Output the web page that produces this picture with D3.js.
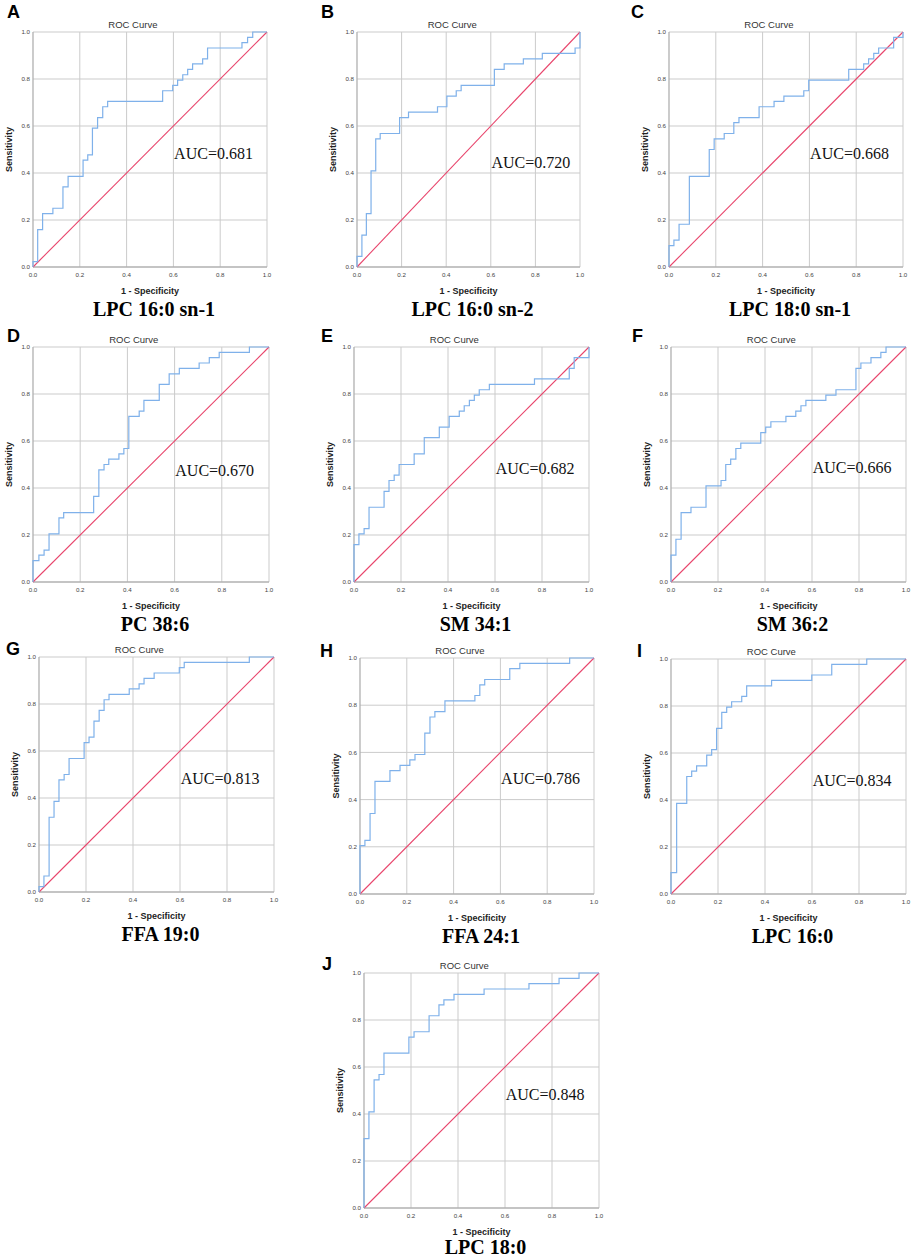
<!DOCTYPE html>
<html>
<head>
<meta charset="utf-8">
<script src="https://cdn.jsdelivr.net/npm/d3@7"></script>
<style>
  html, body { margin: 0; padding: 0; background: #fff; }
  svg { display: block; }
</style>
</head>
<body>
<svg id="chart" width="913" height="1259"></svg>
<script>
// panel data
const panelLetters = ["A", "B", "C", "D", "E", "F", "G", "H", "I", "J"];
const markerNames = ["LPC 16:0 sn-1", "LPC 16:0 sn-2", "LPC 18:0 sn-1", "PC 38:6", "SM 34:1",
  "SM 36:2", "FFA 19:0", "FFA 24:1", "LPC 16:0", "LPC 18:0"];
const aucValues = [0.681, 0.720, 0.668, 0.670, 0.682, 0.666, 0.813, 0.786, 0.834, 0.848];
const axisTicks = [0, 0.2, 0.4, 0.6, 0.8, 1.0];

// ROC steps: [1 - specificity, sensitivity reached at that x]
const rocA = [[0,0.023],[0.020,0.159],[0.041,0.227],[0.085,0.25],[0.128,0.341],[0.150,0.386],[0.214,0.455],[0.234,0.477],[0.254,0.591],[0.276,0.636],[0.298,0.682],[0.319,0.705],[0.554,0.75],[0.597,0.773],[0.618,0.795],[0.640,0.818],[0.661,0.841],[0.682,0.864],[0.725,0.886],[0.746,0.932],[0.893,0.955],[0.917,0.977],[0.939,1.0],[1,1]];
const rocB = [[0,0.045],[0.022,0.136],[0.042,0.227],[0.063,0.409],[0.084,0.545],[0.104,0.568],[0.191,0.636],[0.231,0.659],[0.361,0.682],[0.403,0.727],[0.445,0.75],[0.467,0.773],[0.616,0.841],[0.660,0.864],[0.746,0.886],[0.831,0.909],[0.978,0.932],[1.0,1.0]];
const rocC = [[0,0.091],[0.021,0.114],[0.043,0.182],[0.087,0.386],[0.172,0.5],[0.193,0.545],[0.236,0.568],[0.277,0.614],[0.299,0.636],[0.385,0.682],[0.449,0.705],[0.491,0.727],[0.576,0.75],[0.597,0.795],[0.768,0.841],[0.832,0.864],[0.853,0.886],[0.875,0.909],[0.896,0.932],[0.960,0.977],[1.0,1.0]];
const rocD = [[0,0.091],[0.025,0.114],[0.047,0.136],[0.068,0.205],[0.110,0.273],[0.130,0.295],[0.257,0.364],[0.279,0.477],[0.301,0.5],[0.321,0.523],[0.364,0.545],[0.385,0.568],[0.406,0.705],[0.450,0.727],[0.470,0.773],[0.535,0.841],[0.577,0.886],[0.620,0.909],[0.704,0.932],[0.747,0.955],[0.789,0.977],[0.917,1.0],[1,1]];
const rocE = [[0,0.159],[0.021,0.205],[0.043,0.227],[0.064,0.318],[0.128,0.386],[0.149,0.432],[0.171,0.455],[0.192,0.5],[0.256,0.545],[0.299,0.614],[0.363,0.659],[0.405,0.705],[0.448,0.727],[0.469,0.75],[0.491,0.773],[0.512,0.795],[0.533,0.818],[0.576,0.841],[0.768,0.864],[0.916,0.909],[0.937,0.955],[1.0,1.0]];
const rocF = [[0,0.114],[0.021,0.182],[0.043,0.295],[0.085,0.318],[0.149,0.409],[0.213,0.432],[0.233,0.5],[0.254,0.523],[0.276,0.568],[0.297,0.591],[0.382,0.636],[0.403,0.659],[0.425,0.682],[0.489,0.705],[0.531,0.727],[0.553,0.75],[0.574,0.773],[0.659,0.795],[0.702,0.818],[0.787,0.909],[0.808,0.932],[0.851,0.955],[0.893,0.977],[0.915,1.0],[1,1]];
const rocG = [[0,0.023],[0.021,0.068],[0.043,0.318],[0.064,0.386],[0.085,0.477],[0.107,0.5],[0.128,0.568],[0.192,0.636],[0.213,0.659],[0.234,0.727],[0.256,0.773],[0.277,0.818],[0.298,0.841],[0.384,0.864],[0.426,0.886],[0.447,0.909],[0.490,0.932],[0.597,0.955],[0.618,0.977],[0.895,1.0],[1,1]];
const rocH = [[0,0.205],[0.021,0.227],[0.043,0.341],[0.064,0.477],[0.128,0.523],[0.171,0.545],[0.213,0.568],[0.235,0.591],[0.277,0.682],[0.299,0.75],[0.320,0.773],[0.363,0.818],[0.491,0.841],[0.512,0.886],[0.533,0.909],[0.640,0.955],[0.683,0.977],[0.896,1.0],[1,1]];
const rocI = [[0,0.091],[0.024,0.386],[0.067,0.5],[0.088,0.523],[0.109,0.545],[0.152,0.591],[0.173,0.614],[0.194,0.705],[0.216,0.773],[0.237,0.795],[0.258,0.818],[0.301,0.841],[0.322,0.886],[0.428,0.909],[0.599,0.932],[0.684,0.977],[0.833,1.0],[1,1]];
const rocJ = [[0,0.295],[0.021,0.409],[0.043,0.545],[0.064,0.568],[0.085,0.659],[0.191,0.727],[0.213,0.75],[0.277,0.818],[0.319,0.864],[0.340,0.886],[0.383,0.909],[0.511,0.932],[0.702,0.955],[0.830,0.977],[0.915,1.0],[1,1]];
const rocCurves = [rocA, rocB, rocC, rocD, rocE, rocF, rocG, rocH, rocI, rocJ];

// layout of the plot boxes on the page (pixels)
const layout = [
  { x0: 33, x1: 267, y0: 32, y1: 267, lx: 7, ly: 18, aucY: 0.458 },
  { x0: 357, x1: 580, y0: 32, y1: 267, lx: 321, ly: 18, aucY: 0.422 },
  { x0: 669, x1: 903, y0: 32, y1: 267, lx: 631, ly: 18, aucY: 0.46 },
  { x0: 33, x1: 269, y0: 347, y1: 582, lx: 7, ly: 342, aucY: 0.45 },
  { x0: 354, x1: 589, y0: 347, y1: 582, lx: 321, ly: 342, aucY: 0.46 },
  { x0: 671, x1: 906, y0: 347, y1: 582, lx: 632, ly: 342, aucY: 0.465 },
  { x0: 39, x1: 274, y0: 657, y1: 892, lx: 6, ly: 655, aucY: 0.461 },
  { x0: 360, x1: 594, y0: 658, y1: 894, lx: 320, ly: 657, aucY: 0.465 },
  { x0: 671, x1: 906, y0: 659, y1: 894, lx: 637, ly: 657, aucY: 0.46 },
  { x0: 364, x1: 599, y0: 973, y1: 1208, lx: 322, ly: 970, aucY: 0.458 }
];

const sans = "'Liberation Sans', Arial, Helvetica, sans-serif";
const serif = "'Liberation Serif', 'Times New Roman', Times, serif";
const svg = d3.select("#chart");
const fmt = d3.format(".1f");

layout.forEach((p, i) => {
  const x = d3.scaleLinear().domain([0, 1]).range([p.x0, p.x1]);
  const y = d3.scaleLinear().domain([0, 1]).range([p.y1, p.y0]);
  const g = svg.append("g").attr("class", "panel");

  // grid
  g.append("g").selectAll("line")
    .data(axisTicks.slice(1))
    .join("line")
    .attr("x1", (d) => x(d)).attr("x2", (d) => x(d))
    .attr("y1", y(0)).attr("y2", y(1))
    .attr("stroke", "#cbcbcb").attr("stroke-width", 1);
  g.append("g").selectAll("line")
    .data(axisTicks.slice(1))
    .join("line")
    .attr("x1", x(0)).attr("x2", x(1))
    .attr("y1", (d) => y(d)).attr("y2", (d) => y(d))
    .attr("stroke", "#cbcbcb").attr("stroke-width", 1);

  // axis lines
  g.append("line")
    .attr("x1", x(0)).attr("x2", x(0)).attr("y1", y(0)).attr("y2", y(1))
    .attr("stroke", "#b0b0b0").attr("stroke-width", 1.3);
  g.append("line")
    .attr("x1", x(0)).attr("x2", x(1)).attr("y1", y(0)).attr("y2", y(0))
    .attr("stroke", "#b0b0b0").attr("stroke-width", 1.3);

  // tick labels
  g.append("g").selectAll("text")
    .data(axisTicks)
    .join("text")
    .attr("x", (d) => x(d)).attr("y", y(0) + 9.5)
    .attr("text-anchor", "middle")
    .attr("font-family", sans).attr("font-size", 6.2).attr("fill", "#444")
    .text((d) => fmt(d));
  g.append("g").selectAll("text")
    .data(axisTicks)
    .join("text")
    .attr("x", x(0) - 3).attr("y", (d) => y(d) + 2.2)
    .attr("text-anchor", "end")
    .attr("font-family", sans).attr("font-size", 6.2).attr("fill", "#444")
    .text((d) => fmt(d));

  // reference diagonal
  g.append("line")
    .attr("x1", x(0)).attr("y1", y(0))
    .attr("x2", x(1)).attr("y2", y(1))
    .style("stroke", "#e8456c").style("stroke-width", "1.1px");

  // ROC curve
  const pts = [[0, 0]].concat(rocCurves[i]);
  g.append("path")
    .datum(pts)
    .attr("d", d3.line().x((d) => x(d[0])).y((d) => y(d[1])).curve(d3.curveStepAfter))
    .style("fill", "none").style("stroke", "#7fb1ea").style("stroke-width", "1.2px");

  // texts
  const w = p.x1 - p.x0;
  g.append("text")
    .attr("x", p.x0 + 0.427 * w).attr("y", p.y0 - 4.5)
    .attr("text-anchor", "middle")
    .attr("font-family", sans).attr("font-size", 9.5).attr("fill", "#333")
    .text("ROC Curve");

  g.append("text")
    .attr("transform", `translate(${p.x0 - 21},${(p.y0 + p.y1) / 2}) rotate(-90)`)
    .attr("text-anchor", "middle")
    .attr("font-family", sans).attr("font-size", 9).attr("font-weight", "bold").attr("fill", "#222")
    .text("Sensitivity");

  g.append("text")
    .attr("x", (p.x0 + p.x1) / 2).attr("y", p.y1 + 27)
    .attr("text-anchor", "middle")
    .attr("font-family", sans).attr("font-size", 9).attr("font-weight", "bold").attr("fill", "#222")
    .text("1 - Specificity");

  g.append("text")
    .attr("x", x(0.603)).attr("y", y(p.aucY))
    .attr("font-family", serif).attr("font-size", 16).attr("fill", "#111")
    .text("AUC=" + aucValues[i].toFixed(3));

  g.append("text")
    .attr("x", (p.x0 + p.x1) / 2 + 4).attr("y", Math.min(p.y1 + 49, 1254))
    .attr("text-anchor", "middle")
    .attr("font-family", serif).attr("font-size", 20).attr("font-weight", "bold").attr("fill", "#000")
    .text(markerNames[i]);

  g.append("text")
    .attr("x", p.lx).attr("y", p.ly)
    .attr("font-family", sans).attr("font-size", 18).attr("font-weight", "bold").attr("fill", "#000")
    .text(panelLetters[i]);
});
</script>
</body>
</html>
